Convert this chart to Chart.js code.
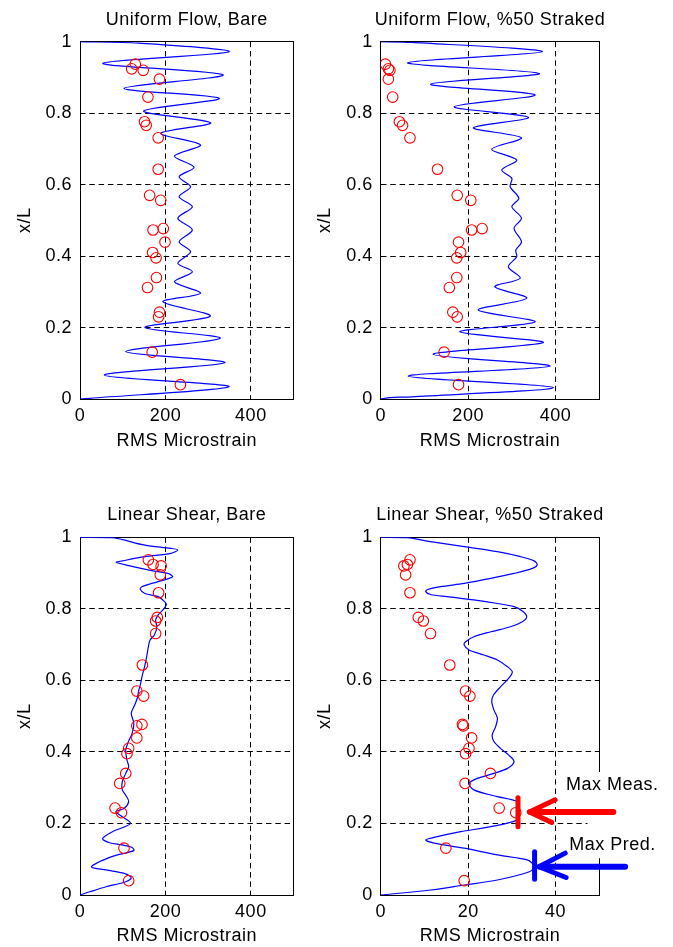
<!DOCTYPE html>
<html>
<head>
<meta charset="utf-8">
<script src="https://cdn.jsdelivr.net/npm/chart.js@4.4.1/dist/chart.umd.min.js"></script>
<style>
html,body{margin:0;padding:0;background:#ffffff;}
body{position:relative;width:673px;height:947px;overflow:hidden;}
canvas{position:absolute;display:block;}
</style>
</head>
<body>
<canvas id="pTL" width="300" height="460" style="left:0px;top:0px;width:300px;height:460px"></canvas>
<canvas id="pTR" width="373" height="460" style="left:300px;top:0px;width:373px;height:460px"></canvas>
<canvas id="pBL" width="300" height="460" style="left:0px;top:495px;width:300px;height:460px"></canvas>
<canvas id="pBR" width="373" height="460" style="left:300px;top:495px;width:373px;height:460px"></canvas>
<script>
// ---------------- DATA ----------------
const panelTitles = ["Uniform Flow, Bare", "Uniform Flow, %50 Straked", "Linear Shear, Bare", "Linear Shear, %50 Straked"];
const xAxisTitle = "RMS Microstrain";
const yAxisTitle = "x/L";
const yTicks = [0, 0.2, 0.4, 0.6, 0.8, 1];
const xTicksWide = [0, 200, 400];
const xTicksNarrow = [0, 20, 40];

// gauge positions (x/L) of the measured points
const gaugeXL = [0.937, 0.924, 0.920, 0.895, 0.845, 0.776, 0.766, 0.731, 0.643, 0.570, 0.556,
                 0.473, 0.477, 0.439, 0.410, 0.395, 0.340, 0.312, 0.243, 0.230, 0.131, 0.040];

// measured RMS microstrain (red circles)
const measUniformBare   = [129.5, 121, 148, 186, 159, 151, 155, 183, 183, 163, 189, 171, 195, 199, 170, 178, 179, 158, 186, 184, 169, 235];
const measUniformStrake = [10.7, 17.5, 21, 17.5, 27.4, 42.7, 50, 67, 130, 175, 206, 208, 232, 178, 183, 174, 174, 157, 165, 175, 145, 178];
const measShearBare     = [160, 171, 190, 188, 184, 181, 177, 177, 146, 133, 149, 133, 145, 133, 114, 110, 107, 93, 82, 97, 103, 114];
const measShearStrake   = [6.7, 6.1, 5.3, 5.7, 6.7, 8.6, 9.75, 11.4, 15.8, 19.4, 20.4, 18.9, 18.7, 20.8, 20.2, 19.4, 25.1, 19.3, 27.1, 30.9, 14.9, 19.1];

// predicted RMS microstrain (blue curves): strain values and x/L positions
const predUniformBareX = [0,137,349,53,335,103,326,149,306,189,282,221,267,232,259,232,263,229,263,232,259,229,263,221,282,194,305,152,328,107,339,57,349,23,0];
const predUniformBareY = [1,0.996,0.972,0.9395,0.907,0.8695,0.8415,0.806,0.773,0.7435,0.711,0.680,0.6485,0.622,0.594,0.566,0.538,0.506,0.473,0.440,0.412,0.380,0.356,0.328,0.296,0.272,0.232,0.200,0.170,0.1325,0.102,0.067,0.0345,0.002,0];

const predUniformStrakeX = [0,71,370,61,363,114,353,168,338,212,322,254,311,277,300,296,316,300,322,305,322,309,311,292,319,261,334,223,353,181,372,120,387,63,395,71,21,0];
const predUniformStrakeY = [1,0.998,0.972,0.941,0.911,0.881,0.851,0.818,0.788,0.759,0.731,0.699,0.669,0.641,0.6175,0.594,0.562,0.538,0.506,0.478,0.440,0.417,0.398,0.370,0.338,0.314,0.282,0.249,0.216,0.188,0.158,0.125,0.092,0.064,0.032,0.006,0.004,0];

const predShearBareX = [0,76,152,213,229,213,152,99,85,114,168,206,217,198,168,145,141,152,183,198,202,194,183,177,180,174,164,160,156,151,146,141,137,134,128,120,126,122,113,107,110,114,107,99,99,107,114,103,84,99,118,76,53,69,99,122,126,76,27,61,107,120,107,61,23,0];
const predShearBareY = [1,0.999,0.978,0.969,0.9645,0.955,0.946,0.934,0.930,0.921,0.907,0.899,0.890,0.881,0.871,0.862,0.855,0.843,0.834,0.820,0.811,0.797,0.783,0.768,0.750,0.727,0.713,0.694,0.666,0.638,0.615,0.587,0.569,0.550,0.531,0.508,0.480,0.452,0.428,0.405,0.377,0.359,0.340,0.317,0.294,0.279,0.261,0.242,0.233,0.219,0.200,0.177,0.158,0.146,0.140,0.133,0.124,0.108,0.079,0.070,0.059,0.048,0.037,0.023,0.009,0];

const predShearStrakeX = [0,6,11.4,19.1,26.7,32,35.1,35.8,34.7,30.5,25.2,19.1,13.7,10.7,10.3,11.4,15.2,21.3,26.7,30.5,32.4,33.4,32.4,29.7,25.2,21.3,19.4,19.1,20.2,23.6,26.7,29,30.1,29.3,27.4,25.8,25.4,25.9,26.7,26.3,25.5,25.9,27.4,29.3,30.5,29,25.9,22.1,20.2,21.3,26.7,31.2,31.8,31.2,25.2,18.3,12.2,10.3,12.2,19.1,26.7,33.5,35.2,34,26.7,19.1,11.4,0];
const predShearStrakeY = [1,0.999,0.988,0.974,0.960,0.946,0.934,0.923,0.913,0.899,0.885,0.871,0.862,0.854,0.848,0.840,0.834,0.825,0.815,0.806,0.794,0.778,0.764,0.750,0.736,0.722,0.708,0.699,0.685,0.671,0.657,0.638,0.624,0.606,0.582,0.559,0.541,0.517,0.494,0.471,0.447,0.429,0.410,0.391,0.373,0.354,0.340,0.326,0.312,0.294,0.275,0.261,0.235,0.210,0.191,0.177,0.161,0.154,0.145,0.131,0.112,0.098,0.080,0.065,0.042,0.028,0.014,0];

// annotation marks (data units of the last panel)
const maxMeasBarX = [31.4, 31.4],  maxMeasBarY = [0.272, 0.191];
const maxMeasShaftX = [34.2, 53.2], maxMeasShaftY = [0.232, 0.232];
const maxMeasHeadX = [39.9, 34.0, 39.1], maxMeasHeadY = [0.266, 0.232, 0.203];
const maxPredBarX = [35.2, 35.2],  maxPredBarY = [0.121, 0.044];
const maxPredShaftX = [36.4, 55.9], maxPredShaftY = [0.079, 0.079];
const maxPredHeadX = [42.2, 36.2, 42.4], maxPredHeadY = [0.117, 0.079, 0.049];
const noteTexts = ["Max Meas.", "Max Pred."];
const noteX = [42.4, 43.1], noteY = [0.3075, 0.140];
const maskX = [47.3, 70], maskY = [0.103, 0.344];

// ---------------- RENDER ----------------
const FONT = "'Liberation Sans', Arial, Helvetica, sans-serif";
const LETTER_SPACING = '0.5px';
Chart.defaults.font.family = FONT;
Chart.defaults.font.size = 18;
Chart.defaults.color = '#000';

const panelDecor = {
  id: 'panelDecor',
  beforeDraw(chart) {
    if ('letterSpacing' in chart.ctx) chart.ctx.letterSpacing = LETTER_SPACING;
  },
  beforeDatasetsDraw(chart, args, opts) {
    const {ctx, chartArea: a, scales} = chart;
    const al = p => Math.round(p - 0.5) + 0.5;
    ctx.save();
    ctx.strokeStyle = '#000'; ctx.lineWidth = 1; ctx.setLineDash([]);
    const l = al(a.left), t = al(a.top), r = al(a.right), b = al(a.bottom);
    ctx.strokeRect(l, t, r - l, b - t);
    if (opts.mask) {
      const x0 = scales.x.getPixelForValue(maskX[0]), x1 = scales.x.getPixelForValue(maskX[1]);
      const y0 = scales.y.getPixelForValue(maskY[0]), y1 = scales.y.getPixelForValue(maskY[1]);
      ctx.fillStyle = '#fff';
      ctx.fillRect(Math.min(x0, x1), Math.min(y0, y1), Math.abs(x1 - x0), Math.abs(y1 - y0));
    }
    ctx.restore();
  },
  afterDatasetsDraw(chart, args, opts) {
    const {ctx, chartArea: a, scales} = chart;
    ctx.save();
    ctx.fillStyle = '#000';
    ctx.font = '18px ' + FONT;
    if ('letterSpacing' in ctx) ctx.letterSpacing = LETTER_SPACING;
    ctx.textAlign = 'center'; ctx.textBaseline = 'middle';
    ctx.fillText(opts.title, (a.left + a.right) / 2, a.top - 22);
    if (opts.notes) {
      ctx.textAlign = 'left';
      noteTexts.forEach((t, i) => {
        ctx.fillText(t, scales.x.getPixelForValue(noteX[i]), scales.y.getPixelForValue(noteY[i]));
      });
    }
    ctx.restore();
  }
};

function pts(xs, ys) { return xs.map((x, i) => ({x: x, y: ys[i]})); }

function markDs(xs, ys, color, width) {
  return {data: pts(xs, ys), showLine: true, borderColor: color, backgroundColor: color, borderWidth: width,
          pointRadius: 0, borderCapStyle: 'round', borderJoinStyle: 'round', clip: false, tension: 0};
}

function buildPanel(id, p) {
  const datasets = [];
  if (p.arrows) {
    datasets.push(markDs(maxMeasBarX, maxMeasBarY, '#ff0000', 5));
    datasets.push(markDs(maxMeasShaftX, maxMeasShaftY, '#ff0000', 6));
    datasets.push(markDs(maxMeasHeadX, maxMeasHeadY, '#ff0000', 5));
    datasets.push(markDs(maxPredBarX, maxPredBarY, '#0000ff', 5));
    datasets.push(markDs(maxPredShaftX, maxPredShaftY, '#0000ff', 6));
    datasets.push(markDs(maxPredHeadX, maxPredHeadY, '#0000ff', 5));
  }
  datasets.push({data: pts(p.meas, gaugeXL), showLine: false, pointStyle: 'circle', pointRadius: 5.3,
                 borderWidth: 1.1, borderColor: '#ff0000', backgroundColor: 'rgba(0,0,0,0)'});
  datasets.push({data: pts(p.predX, p.predY), showLine: true, borderColor: '#0000ff', borderWidth: 1.2,
                 pointRadius: 0, tension: 0.3, fill: false});

  new Chart(document.getElementById(id), {
    type: 'scatter',
    data: {datasets: datasets},
    options: {
      responsive: false, animation: false, events: [],
      layout: {padding: {left: 0, top: p.padT, right: p.padR, bottom: 0}},
      plugins: {
        legend: {display: false}, tooltip: {enabled: false},
        panelDecor: {title: p.title, notes: !!p.arrows, mask: !!p.arrows}
      },
      scales: {
        x: {
          type: 'linear', position: 'bottom', min: 0, max: p.xMax,
          afterBuildTicks: s => { s.ticks = p.xTicks.map(v => ({value: v})); },
          afterFit: s => { s.height = p.xH; },
          grid: {color: '#000', lineWidth: 1, drawTicks: false},
          border: {display: false, dash: [5.5, 3.8]},
          ticks: {padding: 6, maxRotation: 0, autoSkip: false, color: '#000', callback: v => String(v)},
          title: {display: true, text: xAxisTitle, color: '#000', padding: {top: 0, bottom: 8.6}}
        },
        y: {
          type: 'linear', position: 'left', min: 0, max: 1,
          afterBuildTicks: s => { s.ticks = yTicks.map(v => ({value: v})); },
          afterFit: s => { s.width = p.yW; },
          grid: {color: '#000', lineWidth: 1, drawTicks: false},
          border: {display: false, dash: [5.5, 3.8]},
          ticks: {padding: 8, autoSkip: false, color: '#000', callback: v => String(v)},
          title: {display: true, text: yAxisTitle, color: '#000', padding: {top: 14.5, bottom: 0}}
        }
      }
    },
    plugins: [panelDecor]
  });
}

buildPanel('pTL', {title: panelTitles[0], meas: measUniformBare, predX: predUniformBareX, predY: predUniformBareY,
  xMax: 500, xTicks: xTicksWide, padT: 41.7, padR: 1.5, yW: 80, xH: 61});
buildPanel('pTR', {title: panelTitles[1], meas: measUniformStrake, predX: predUniformStrakeX, predY: predUniformStrakeY,
  xMax: 500, xTicks: xTicksWide, padT: 41.7, padR: 73.7, yW: 80.7, xH: 61});
buildPanel('pBL', {title: panelTitles[2], meas: measShearBare, predX: predShearBareX, predY: predShearBareY,
  xMax: 500, xTicks: xTicksWide, padT: 42.3, padR: 1.3, yW: 80, xH: 60});
buildPanel('pBR', {title: panelTitles[3], meas: measShearStrake, predX: predShearStrakeX, predY: predShearStrakeY,
  xMax: 50, xTicks: xTicksNarrow, padT: 42.3, padR: 73.7, yW: 80.7, xH: 60, arrows: true});
</script>
</body>
</html>
